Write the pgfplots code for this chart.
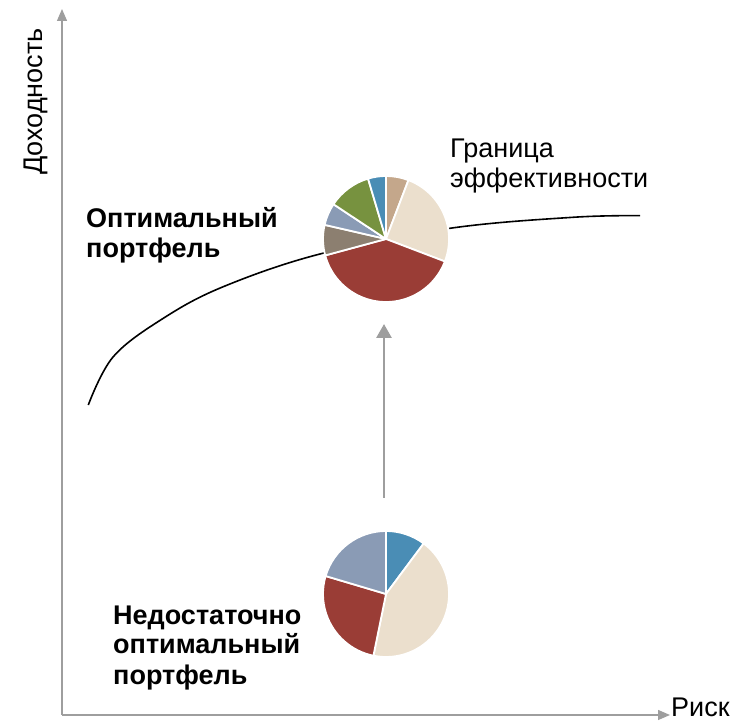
\documentclass[border=0pt]{standalone}
\usepackage{fontspec}
\setmainfont{Liberation Sans}
\usepackage{pgfplots}
\pgfplotsset{compat=1.18}
\usetikzlibrary{arrows.meta}
\definecolor{pblue}{HTML}{4A8DB5}
\definecolor{ptan}{HTML}{C4A78B}
\definecolor{pcream}{HTML}{EBDFCD}
\definecolor{pred}{HTML}{9A3D36}
\definecolor{pgbrown}{HTML}{8C7F70}
\definecolor{pbgray}{HTML}{8A9BB5}
\definecolor{pgreen}{HTML}{77923F}
\definecolor{axgray}{HTML}{9E9E9E}
% slice: centre x, centre y, start angle, end angle, colour (angles from pie shares, clockwise from 12 o'clock)
\newcommand{\slice}[5]{%
  \fill[#5, draw=white, line width=1.8pt, line join=round] (axis cs:#1,#2) -- ++(#3:63pt) arc[start angle=#3, end angle=#4, radius=63pt] -- cycle;}
\begin{document}
\begin{tikzpicture}
\begin{axis}[
  width=738pt, height=722pt, scale only axis,
  xmin=0, xmax=738, ymin=0, ymax=722,
  hide axis, clip=false,
]
% axes
\draw[axgray, line width=1.3pt, -{Triangle[length=12pt,width=10pt]}] (axis cs:62,7) -- (axis cs:62,713);
\draw[axgray, line width=1.3pt, -{Triangle[length=12pt,width=10pt]}] (axis cs:62,7) -- (axis cs:670,7);
% efficient frontier
\addplot[black, line width=1.6pt, smooth, tension=0.6] coordinates {
 (88.3,317) (113.3,365.3) (163.3,403.7) (223.3,435.3) (320,468)
 (450,493.7) (573,504.7) (640,506.3)};
% gray arrow
\draw[axgray, line width=2.8pt, -{Triangle[length=14pt,width=15pt]}] (axis cs:384,224) -- (axis cs:384,398);
% top pie: shares 5.8, 25, 40, 7.8, 5.7, 11.1, 4.6 %
\slice{386}{483}{90}{69.12}{ptan}
\slice{386}{483}{69.12}{-20.88}{pcream}
\slice{386}{483}{-20.88}{-164.88}{pred}
\slice{386}{483}{-164.88}{-192.96}{pgbrown}
\slice{386}{483}{-192.96}{-213.48}{pbgray}
\slice{386}{483}{-213.48}{-253.44}{pgreen}
\slice{386}{483}{-253.44}{-270}{pblue}
% bottom pie: shares 10.2, 43, 26.4, 20.4 %
\slice{386}{128}{90}{53.28}{pblue}
\slice{386}{128}{53.28}{-101.52}{pcream}
\slice{386}{128}{-101.52}{-196.56}{pred}
\slice{386}{128}{-196.56}{-270}{pbgray}
% texts
\node[anchor=base west, inner sep=0, font=\fontsize{27}{30}\selectfont, rotate=90] at (axis cs:42,547) {Доходность};
\node[anchor=base west, inner sep=0, font=\fontsize{27}{30}\selectfont] at (axis cs:671,5) {Риск};
\node[anchor=base west, inner sep=0, font=\fontsize{27}{30}\selectfont] at (axis cs:450,564) {Граница};
\node[anchor=base west, inner sep=0, font=\fontsize{27}{30}\selectfont] at (axis cs:450,534) {эффективности};
\node[anchor=base west, inner sep=0, font=\fontsize{27}{30}\selectfont\bfseries] at (axis cs:86,494) {Оптимальный};
\node[anchor=base west, inner sep=0, font=\fontsize{27}{30}\selectfont\bfseries] at (axis cs:86,464) {портфель};
\node[anchor=base west, inner sep=0, font=\fontsize{27}{30}\selectfont\bfseries] at (axis cs:113,97) {Недостаточно};
\node[anchor=base west, inner sep=0, font=\fontsize{27}{30}\selectfont\bfseries] at (axis cs:113,68) {оптимальный};
\node[anchor=base west, inner sep=0, font=\fontsize{27}{30}\selectfont\bfseries] at (axis cs:113,37) {портфель};
\end{axis}
\pgfresetboundingbox
\useasboundingbox (current axis.south west) rectangle (current axis.north east);
\end{tikzpicture}
\end{document}
